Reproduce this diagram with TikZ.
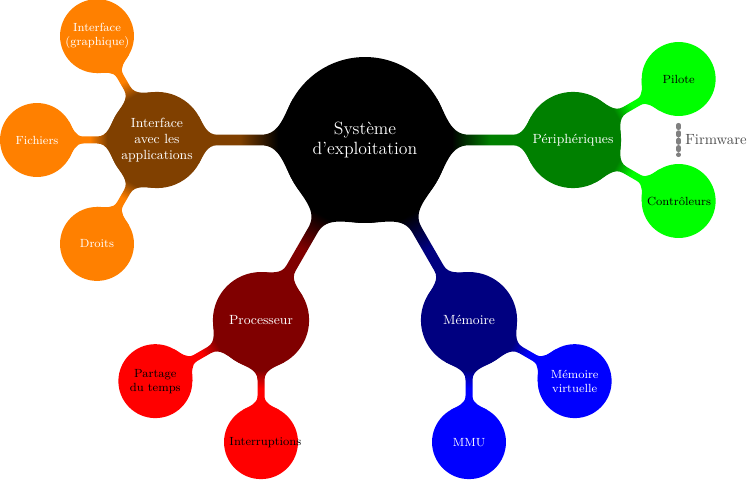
\documentclass[tikz,border=0pt]{standalone}
\usetikzlibrary{backgrounds,calc}
\colorlet{pcol}{black}
\colorlet{ccol}{black}
\pgfdeclarehorizontalshading[pcol,ccol]{mmbar}{100bp}{color(0bp)=(pcol); color(100bp)=(pcol); color(120bp)=(ccol); color(220bp)=(ccol)}
% #1 parent, #2 child, #3 parent radius, #4 child radius, #5 parent colour, #6 child colour, #7 half width of the bar
\newcommand\mmbar[7]{%
  \path let \p1=($(#2.center)-(#1.center)$) in
    \pgfextra{\pgfmathsetmacro\mmang{atan2(\y1,\x1)}\global\let\mmang\mmang
              \pgfmathsetmacro\mmd{veclen(\x1,\y1)/0.67746}\global\let\mmd\mmd};
  \colorlet{pcol}{#5}\colorlet{ccol}{#6}%
  \pgfmathsetmacro\mmgap{\mmd-#3-#4}%
  \begin{scope}[shift={(#1.center)},rotate=\mmang]
    \begin{scope}
      \clip (30:#3) to[out=-60,in=180] ({1.25*#3},#7) -- ({\mmd-1.25*#4},#7)
        to[out=0,in=240] ({\mmd-0.866*#4},{0.5*#4}) -- ({\mmd-0.866*#4},{-0.5*#4})
        to[out=120,in=0] ({\mmd-1.25*#4},-#7) -- ({1.25*#3},-#7)
        to[out=180,in=60] (-30:#3) -- cycle;
      \begin{scope}[shift={({#3+0.3*\mmgap},0)},xscale={0.5*\mmgap*0.6749/20}]
        \pgflowlevelsynccm\pgfuseshading{mmbar}
      \end{scope}
    \end{scope}
  \end{scope}}
\begin{document}
\begin{tikzpicture}[x=0.02381cm,y=0.02381cm,
  conc/.style={circle,inner sep=0pt,align=center,fill=#1},
  rootc/.style={conc=black,minimum size=3.95cm,font=\large,text=white},
  lvlone/.style={conc=#1,minimum size=2.29cm,font=\small,text=white},
  lvltwo/.style={conc=#1,minimum size=1.76cm,text width=1.5cm,font=\footnotesize},
  fwline/.style={draw=gray,line width=3pt,line cap=round,dash pattern=on 1.8pt off 3.2pt,shorten <=6pt,shorten >=6pt},
]
\useasboundingbox (0,0) rectangle (751,480);
% root and level 1
\node[rootc] (root) at (365,340) {Système\\d'exploitation};
\node[lvlone=green!50!black] (periph) at ([shift={(0:208)}]root.center) {Périphériques};
\node[lvlone=blue!50!black] (memoire) at ([shift={(-60:208)}]root.center) {Mémoire};
\node[lvlone=red!50!black] (proc) at ([shift={(-120:208)}]root.center) {Processeur};
\node[lvlone=orange!50!black] (interf) at ([shift={(180:208)}]root.center) {Interface\\avec les\\applications};
% level 2
\node[lvltwo=green,text=black] (pilote) at ([shift={(30:122)}]periph.center) {Pilote};
\node[lvltwo=green,text=black] (ctrl) at ([shift={(-30:122)}]periph.center) {Contrôleurs};
\node[lvltwo=blue,text=white] (mvirt) at ([shift={(-30:122)}]memoire.center) {Mémoire\\virtuelle};
\node[lvltwo=blue,text=white] (mmu) at ([shift={(-90:122)}]memoire.center) {MMU};
\node[lvltwo=red,text=black] (interr) at ([shift={(-90:122)}]proc.center) {Interruptions};
\node[lvltwo=red,text=black] (partage) at ([shift={(-150:122)}]proc.center) {Partage\\du temps};
\node[lvltwo=orange,text=white] (igraph) at ([shift={(120:120)}]interf.center) {Interface\\(graphique)};
\node[lvltwo=orange,text=white] (fich) at ([shift={(180:120)}]interf.center) {Fichiers};
\node[lvltwo=orange,text=white] (droits) at ([shift={(240:120)}]interf.center) {Droits};
% connection bars
\begin{pgfonlayer}{background}
\mmbar{root}{periph}{83}{48}{black}{green!50!black}{5.3}
\mmbar{root}{memoire}{83}{48}{black}{blue!50!black}{5.3}
\mmbar{root}{proc}{83}{48}{black}{red!50!black}{5.3}
\mmbar{root}{interf}{83}{48}{black}{orange!50!black}{5.3}
\mmbar{periph}{pilote}{48}{37}{green!50!black}{green}{3.5}
\mmbar{periph}{ctrl}{48}{37}{green!50!black}{green}{3.5}
\mmbar{memoire}{mvirt}{48}{37}{blue!50!black}{blue}{3.5}
\mmbar{memoire}{mmu}{48}{37}{blue!50!black}{blue}{3.5}
\mmbar{proc}{interr}{48}{37}{red!50!black}{red}{3.5}
\mmbar{proc}{partage}{48}{37}{red!50!black}{red}{3.5}
\mmbar{interf}{igraph}{48}{37}{orange!50!black}{orange}{3.5}
\mmbar{interf}{fich}{48}{37}{orange!50!black}{orange}{3.5}
\mmbar{interf}{droits}{48}{37}{orange!50!black}{orange}{3.5}
\end{pgfonlayer}
% firmware
\draw[fwline] (pilote) -- (ctrl) node[midway,right,inner sep=3pt,text=black!70,font=\normalsize] {Firmware};
\end{tikzpicture}
\end{document}
